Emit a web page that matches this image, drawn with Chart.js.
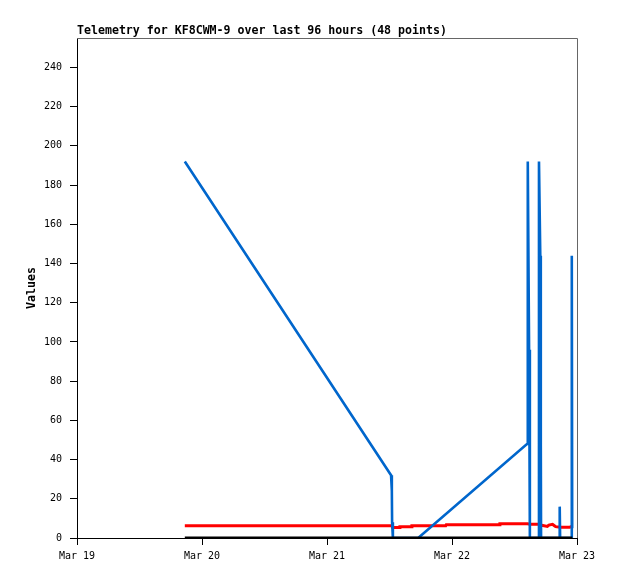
<!DOCTYPE html>
<html><head><meta charset="utf-8">
<script src="https://cdn.jsdelivr.net/npm/chart.js@4"></script>
<style>html,body{margin:0;padding:0;background:#fff}canvas{display:block}</style>
</head><body>
<canvas id="c" width="618" height="579"></canvas>
<script>
const chartTitle = "Telemetry for KF8CWM-9 over last 96 hours (48 points)";
const yAxisTitle = "Values";
const dayLabels = ["Mar 19", "Mar 20", "Mar 21", "Mar 22", "Mar 23"];

// hours since Mar 19 00:00
const blueHours  = [20.7, 60.3, 60.45, 60.5, 60.65, 65.5, 86.45, 86.55, 86.8, 86.95, 88.6, 88.7, 88.95, 89.05, 89.1, 92.6, 92.68, 92.76, 94.93, 95.0, 95.08];
const blueValues = [192, 32, 24, 8, 0, 0, 48, 192, 96, 0, 0, 192, 144, 48, 0, 0, 16, 0, 0, 144, 5];

const redHours  = [20.7, 60.4, 60.6, 61.9, 62.0, 64.2, 64.3, 70.8, 70.9, 81.1, 81.2, 86.5, 87.0, 88.8, 89.2, 90.3, 90.6, 91.3, 91.6, 91.9, 92.8, 94.6, 94.8, 95.2];
const redValues = [6.3, 6.3, 5.3, 5.3, 5.8, 5.8, 6.3, 6.3, 6.8, 6.8, 7.3, 7.3, 7.0, 7.0, 6.5, 5.9, 6.6, 7.0, 6.4, 5.8, 5.5, 5.5, 5.8, 5.8];

const blackHours  = [20.7, 95.1];
const blackValues = [0, 0];

const pts = (xs, ys) => xs.map((x, i) => ({x: x, y: ys[i]}));
const FONT = "'DejaVu Sans Mono', 'Liberation Mono', monospace";

const framePlugin = {
  id: 'frame',
  afterDatasetsDraw(chart) {
    const {ctx, chartArea: a} = chart;
    ctx.save();
    ctx.strokeStyle = '#666';
    ctx.lineWidth = 1;
    ctx.beginPath();
    ctx.moveTo(a.left, a.top + 0.5);
    ctx.lineTo(a.right + 0.5, a.top + 0.5);
    ctx.lineTo(a.right + 0.5, a.bottom);
    ctx.stroke();
    ctx.restore();
  },
  afterDraw(chart) {
    const {ctx, chartArea: a} = chart;
    ctx.save();
    ctx.fillStyle = '#000';
    ctx.font = "bold 11.6px " + FONT;
    ctx.textBaseline = 'middle';
    ctx.textAlign = 'left';
    ctx.fillText(chartTitle, a.left, 31);
    ctx.translate(32, (a.top + a.bottom) / 2);
    ctx.rotate(-Math.PI / 2);
    ctx.textAlign = 'center';
    ctx.fillText(yAxisTitle, 0, 0);
    ctx.restore();
  }
};

new Chart(document.getElementById('c'), {
  type: 'line',
  data: {
    datasets: [
      {data: pts(blackHours, blackValues), borderColor: '#000', borderWidth: 3, order: 0},
      {data: pts(blueHours, blueValues), borderColor: '#0066cc', borderWidth: 2.6, order: 1},
      {data: pts(redHours, redValues), borderColor: '#ff0000', borderWidth: 3, order: 2}
    ]
  },
  options: {
    responsive: false,
    animation: false,
    devicePixelRatio: 1,
    layout: {padding: {top: 38, right: 41, left: 0, bottom: 0}},
    elements: {point: {radius: 0}, line: {tension: 0}},
    plugins: {legend: {display: false}, tooltip: {enabled: false}, title: {display: false}},
    scales: {
      x: {
        type: 'linear', min: 0, max: 96,
        afterFit(s) { s.height = 41; },
        grid: {drawOnChartArea: false, drawTicks: true, tickLength: 7, color: '#000'},
        border: {display: true, color: '#000', width: 1},
        ticks: {
          stepSize: 24, autoSkip: false, maxRotation: 0, padding: 5, color: '#000',
          font: {family: FONT, size: 10},
          callback: v => dayLabels[Math.round(v / 24)]
        }
      },
      y: {
        type: 'linear', min: 0, max: 255,
        afterFit(s) { s.width = 77; },
        grid: {drawOnChartArea: false, drawTicks: true, tickLength: 7, color: '#000'},
        border: {display: true, color: '#000', width: 1},
        ticks: {
          stepSize: 20, includeBounds: false, padding: 8, color: '#000',
          font: {family: FONT, size: 10}
        }
      }
    }
  },
  plugins: [framePlugin]
});
</script>
</body></html>
